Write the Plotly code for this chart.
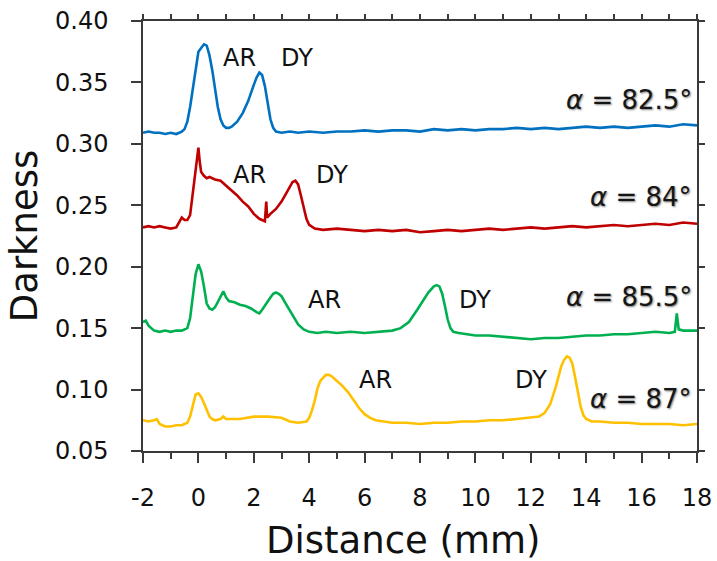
import plotly.graph_objects as go

# ---------------- data ----------------
blue_x = [-2.0,-1.8,-1.6,-1.4,-1.2,-1.0,-0.8,-0.6,
          -0.5,-0.4,-0.3,-0.2,-0.1,0.0,0.1,0.2,0.3,0.4,0.5,0.6,0.7,0.8,0.9,1.0,1.1,1.2,
          1.4,1.6,1.8,2.0,
          2.1,2.2,2.3,2.4,2.5,2.6,2.7,2.8,
          3.0,3.3,3.6,4.0,
          4.5,5.0,5.5,6.0,6.5,7.0,7.5,8.0,8.5,9.0,9.5,10.0,10.5,11.0,11.5,12.0,12.5,13.0,13.5,14.0,14.5,15.0,15.5,16.0,16.5,17.0,17.5,18.0]
blue_y = [0.309,0.310,0.309,0.309,0.308,0.309,0.308,0.310,
          0.312,0.318,0.330,0.346,0.362,0.375,0.378,0.381,0.380,0.372,0.360,0.345,0.330,0.320,0.315,0.313,0.313,0.314,
          0.318,0.325,0.335,0.348,
          0.354,0.358,0.356,0.347,0.333,0.320,0.313,0.310,
          0.309,0.310,0.309,0.310,
          0.309,0.310,0.310,0.311,0.310,0.311,0.311,0.310,0.312,0.311,0.312,0.311,0.312,0.312,0.313,0.312,0.313,0.312,0.313,0.314,0.313,0.314,0.313,0.314,0.315,0.314,0.316,0.315]

red_x = [-2.0,-1.8,-1.6,-1.4,-1.2,-1.0,-0.8,-0.7,-0.6,-0.5,-0.4,-0.3,-0.2,-0.1,0.0,0.05,0.1,0.2,0.3,0.4,
         0.6,0.8,1.0,1.2,1.4,1.6,1.8,2.0,2.2,2.4,2.42,2.45,2.48,2.6,2.8,3.0,3.2,3.4,3.5,3.6,3.7,3.8,3.9,4.0,4.2,
         4.5,5.0,5.5,6.0,6.5,7.0,7.5,8.0,8.5,9.0,9.5,10.0,10.5,11.0,11.5,12.0,12.5,13.0,13.5,14.0,14.5,15.0,15.5,16.0,16.5,17.0,17.5,18.0]
red_y = [0.232,0.233,0.232,0.233,0.232,0.231,0.232,0.236,0.240,0.238,0.238,0.242,0.262,0.282,0.297,0.285,0.277,0.274,0.272,0.273,
         0.271,0.270,0.266,0.262,0.258,0.253,0.249,0.243,0.239,0.237,0.250,0.253,0.240,0.243,0.247,0.253,0.261,0.269,0.270,0.267,0.258,0.248,0.239,0.234,0.231,
         0.230,0.231,0.230,0.229,0.230,0.229,0.230,0.228,0.229,0.230,0.229,0.230,0.231,0.230,0.231,0.232,0.231,0.232,0.233,0.232,0.233,0.234,0.233,0.234,0.235,0.234,0.236,0.235]

green_x = [-2.0,-1.9,-1.8,-1.6,-1.4,-1.2,-1.0,-0.8,-0.6,-0.4,-0.3,-0.2,-0.1,0.0,0.1,0.2,0.3,0.4,0.5,0.6,0.7,0.8,0.9,1.0,1.1,
           1.3,1.5,1.7,1.9,2.1,2.2,2.3,2.4,2.5,2.6,2.7,2.8,2.9,3.0,3.1,3.2,3.4,3.6,3.8,4.0,4.3,4.6,
           5.0,5.5,6.0,6.5,7.0,7.3,7.6,7.9,8.1,8.3,8.5,8.6,8.7,8.8,8.9,9.0,9.1,9.2,9.4,9.7,
           10.0,10.5,11.0,11.5,12.0,12.5,13.0,13.5,14.0,14.5,15.0,15.5,16.0,16.5,17.0,17.2,17.27,17.34,17.5,18.0]
green_y = [0.155,0.156,0.152,0.148,0.147,0.148,0.147,0.148,0.148,0.150,0.158,0.178,0.194,0.202,0.196,0.184,0.170,0.166,0.165,0.167,0.171,0.175,0.180,0.175,0.172,
           0.171,0.169,0.168,0.166,0.163,0.162,0.165,0.168,0.172,0.175,0.178,0.179,0.178,0.176,0.172,0.168,0.160,0.153,0.149,0.147,0.146,0.147,
           0.146,0.147,0.146,0.147,0.148,0.150,0.155,0.165,0.172,0.179,0.184,0.185,0.184,0.178,0.168,0.157,0.150,0.147,0.146,0.145,
           0.144,0.144,0.143,0.142,0.141,0.142,0.142,0.143,0.144,0.144,0.145,0.145,0.146,0.147,0.146,0.147,0.162,0.149,0.148,0.148]

yellow_x = [-2.0,-1.8,-1.6,-1.5,-1.4,-1.2,-1.0,-0.8,-0.6,-0.4,-0.3,-0.2,-0.1,0.0,0.1,0.2,0.3,0.4,0.5,0.6,0.8,0.9,1.0,1.2,1.5,
            2.0,2.5,3.0,3.3,3.6,3.9,4.0,4.1,4.2,4.3,4.4,4.5,4.6,4.7,4.8,4.9,5.0,5.2,5.4,5.6,5.8,6.0,6.2,6.4,6.7,
            7.0,7.5,8.0,8.5,9.0,9.5,10.0,10.5,11.0,11.5,12.0,12.3,12.5,12.7,12.9,13.0,13.1,13.2,13.3,13.4,13.5,13.6,13.7,13.8,13.9,14.0,
            14.2,14.5,15.0,15.5,16.0,16.5,17.0,17.5,18.0]
yellow_y = [0.075,0.074,0.075,0.076,0.072,0.070,0.070,0.071,0.071,0.073,0.078,0.088,0.096,0.097,0.094,0.089,0.083,0.078,0.076,0.075,0.076,0.078,0.076,0.076,0.076,
            0.078,0.078,0.077,0.074,0.073,0.074,0.077,0.083,0.091,0.101,0.107,0.110,0.112,0.112,0.111,0.109,0.107,0.103,0.098,0.091,0.085,0.080,0.077,0.075,0.074,
            0.073,0.073,0.072,0.073,0.073,0.074,0.074,0.075,0.075,0.076,0.077,0.078,0.081,0.088,0.102,0.110,0.119,0.124,0.127,0.126,0.121,0.110,0.097,0.086,0.079,0.076,
            0.074,0.074,0.073,0.073,0.072,0.072,0.072,0.071,0.072]

series_names = ["α = 82.5°", "α = 84°", "α = 85.5°", "α = 87°"]
series_colors = ["#0070C0", "#C00000", "#00B050", "#FFC000"]

# peak labels: (text, x, y)
peak_labels = [("AR", 1.5, 0.370), ("DY", 3.55, 0.370),
               ("AR", 1.86, 0.2747), ("DY", 4.82, 0.2747),
               ("AR", 4.57, 0.173), ("DY", 10.0, 0.173),
               ("AR", 6.41, 0.108), ("DY", 12.0, 0.108)]
angle_labels = ["<i>α</i> = 82.5°", "<i>α</i> = 84°", "<i>α</i> = 85.5°", "<i>α</i> = 87°"]
angle_label_y = [0.3355, 0.257, 0.1755, 0.0925]

x_ticks = list(range(-2, 19, 2))
y_ticks = [0.05, 0.10, 0.15, 0.20, 0.25, 0.30, 0.35, 0.40]

xs = [blue_x, red_x, green_x, yellow_x]
ys = [blue_y, red_y, green_y, yellow_y]
for a, b in zip(xs, ys):
    assert len(a) == len(b), (len(a), len(b))

FONT = "DejaVu Sans"
AXC = "#3a3a3a"

fig = go.Figure()
for xv, yv, nm, col in zip(xs, ys, series_names, series_colors):
    fig.add_trace(go.Scatter(x=xv, y=yv, mode="lines", name=nm,
                             line=dict(color=col, width=2.6), showlegend=False))
# empty trace so the mirrored (top / right) frame axes are drawn
fig.add_trace(go.Scatter(x=[None], y=[None], xaxis="x2", yaxis="y2", mode="lines",
                         showlegend=False, hoverinfo="skip"))

for t, xv, yv in peak_labels:
    fig.add_annotation(x=xv, y=yv, text=t, showarrow=False,
                       font=dict(family=FONT, size=24, color="#111"),
                       xanchor="center", yanchor="middle")
for t, yv in zip(angle_labels, angle_label_y):
    fig.add_annotation(x=18, y=yv, text=t, showarrow=False, xshift=-3,
                       font=dict(family=FONT, size=26, color="#161616",
                                 shadow="1px 1px 2px rgba(0,0,0,0.5)"),
                       xanchor="right", yanchor="middle")

# x-axis title (slightly left of plot centre, as in the original)
fig.add_annotation(xref="paper", yref="paper", x=0.471, y=-0.209, text="Distance (mm)",
                   showarrow=False, xanchor="center", yanchor="middle",
                   font=dict(family=FONT, size=37, color="#111"))

fig.update_layout(
    width=717, height=561,
    margin=dict(l=143, r=20, t=21, b=110, autoexpand=False),
    paper_bgcolor="white", plot_bgcolor="white",
    font=dict(family=FONT, color="#111"),
    xaxis=dict(range=[-2, 18], tickvals=x_ticks, ticktext=[str(v) for v in x_ticks],
               ticks="outside", ticklen=10, tickwidth=1.5, tickcolor=AXC, automargin=False,
               minor=dict(dtick=1, ticks="outside", ticklen=6, tickwidth=1.5, tickcolor=AXC),
               showline=True, linecolor=AXC, linewidth=1.5, showgrid=False, zeroline=False,
               tickfont=dict(family=FONT, size=24, color="#111"), ticklabelstandoff=14),
    yaxis=dict(range=[0.05, 0.40], tickvals=y_ticks, ticktext=["%.2f" % v for v in y_ticks],
               ticks="outside", ticklen=10, tickwidth=1.5, tickcolor=AXC, automargin=False,
               showline=True, linecolor=AXC, linewidth=1.5, showgrid=False, zeroline=False,
               tickfont=dict(family=FONT, size=24, color="#111"), ticklabelstandoff=18,
               title=dict(text="Darkness", font=dict(family=FONT, size=37, color="#111"), standoff=6)),
    xaxis2=dict(range=[-2, 18], overlaying="x", side="top", anchor="y2", dtick=1, tick0=0,
                ticks="outside", ticklen=5, tickwidth=1.5, tickcolor=AXC, automargin=False,
                showline=True, linecolor=AXC, linewidth=1.5, showticklabels=False,
                showgrid=False, zeroline=False),
    yaxis2=dict(range=[0.05, 0.40], overlaying="y", side="right", anchor="x2", dtick=0.05, tick0=0,
                ticks="outside", ticklen=6, tickwidth=1.5, tickcolor=AXC, automargin=False,
                showline=True, linecolor=AXC, linewidth=1.5, showticklabels=False,
                showgrid=False, zeroline=False),
)

fig.write_html("out.html")
